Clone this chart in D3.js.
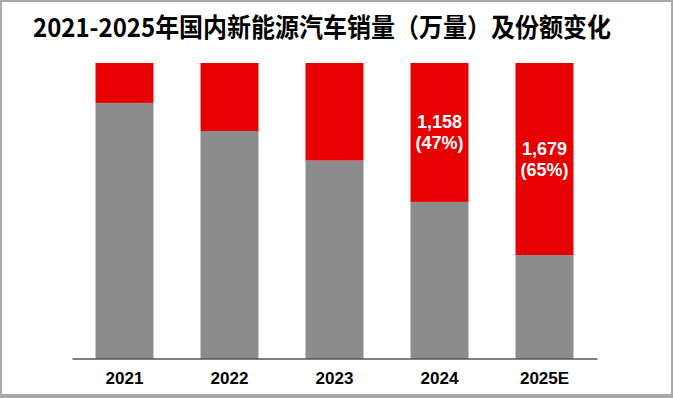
<!DOCTYPE html>
<html>
<head>
<meta charset="utf-8">
<script src="https://cdn.jsdelivr.net/npm/d3@7"></script>
<style>
  html, body { margin: 0; padding: 0; background: #fff; }
  svg { display: block; }
</style>
</head>
<body>
<div id="chart"></div>
<script>
// chart data
const years = ['2021', '2022', '2023', '2024', '2025E'];
const nevShare = [13.5, 23, 33, 47, 65]; // % of total, red part
const nevSales = [null, null, null, 1158, 1679]; // 万辆, labelled only for last two
const titleText = '2021-2025年国内新能源汽车销量（万量）及份额变化';

const width = 673;
const height = 398;
const red = '#e60000';
const grey = '#8c8c8c';

const svg = d3.select('#chart').append('svg')
    .attr('width', width)
    .attr('height', height);

// grey frame around the slide
svg.append('rect')
    .attr('width', width)
    .attr('height', height)
    .attr('fill', '#a9a9a9');
svg.append('rect')
    .attr('x', 2)
    .attr('y', 2)
    .attr('width', width - 4)
    .attr('height', height - 6)
    .attr('fill', '#fff');

svg.append('text')
    .attr('x', 33)
    .attr('y', 37)
    .attr('font-family', '"Noto Sans CJK SC", "Noto Sans", sans-serif')
    .attr('font-weight', 'bold')
    .attr('font-size', 26)
    .attr('textLength', 578)
    .attr('lengthAdjust', 'spacingAndGlyphs')
    .attr('fill', '#000')
    .text(titleText);

const x = d3.scaleBand()
    .domain(years)
    .range([72, 597])
    .paddingInner(0.448)
    .paddingOuter(0.224);

const y = d3.scaleLinear()
    .domain([0, 100])
    .range([358.5, 63]);

const g = svg.append('g');

// grey (rest of market) fills whole bar, red share on top
g.selectAll('.bar-rest')
    .data(years)
    .enter()
    .append('rect')
    .attr('class', 'bar-rest')
    .attr('x', d => x(d))
    .attr('width', x.bandwidth())
    .attr('y', (d, i) => y(100 - nevShare[i]))
    .attr('height', (d, i) => y(0) - y(100 - nevShare[i]))
    .attr('fill', grey);

g.selectAll('.bar-nev')
    .data(years)
    .enter()
    .append('rect')
    .attr('class', 'bar-nev')
    .attr('x', d => x(d))
    .attr('width', x.bandwidth())
    .attr('y', y(100))
    .attr('height', (d, i) => y(100 - nevShare[i]) - y(100))
    .attr('fill', red);

// value labels in the red part
years.forEach((yr, i) => {
    if (nevSales[i] == null) return;
    const cx = x(yr) + x.bandwidth() / 2;
    const cy = (y(100) + y(100 - nevShare[i])) / 2;
    const t = g.append('text')
        .attr('x', cx)
        .attr('text-anchor', 'middle')
        .attr('font-family', '"Liberation Sans", Arial, sans-serif')
        .attr('font-weight', 'bold')
        .attr('font-size', 18)
        .attr('fill', '#fff');
    t.append('tspan')
        .attr('x', cx)
        .attr('y', cy - 4)
        .text(d3.format(',')(nevSales[i]));
    t.append('tspan')
        .attr('x', cx)
        .attr('y', cy + 17)
        .text('(' + Math.round(nevShare[i]) + '%)');
});

// x axis
const xAxis = svg.append('g')
    .attr('transform', 'translate(0,' + y(0) + ')')
    .call(d3.axisBottom(x).tickSize(0).tickPadding(13));
xAxis.select('.domain')
    .attr('stroke', '#000')
    .attr('stroke-width', 1);
xAxis.selectAll('text')
    .attr('font-family', '"Liberation Sans", Arial, sans-serif')
    .attr('font-weight', 'bold')
    .attr('font-size', 17)
    .attr('fill', '#000');
</script>
</body>
</html>
